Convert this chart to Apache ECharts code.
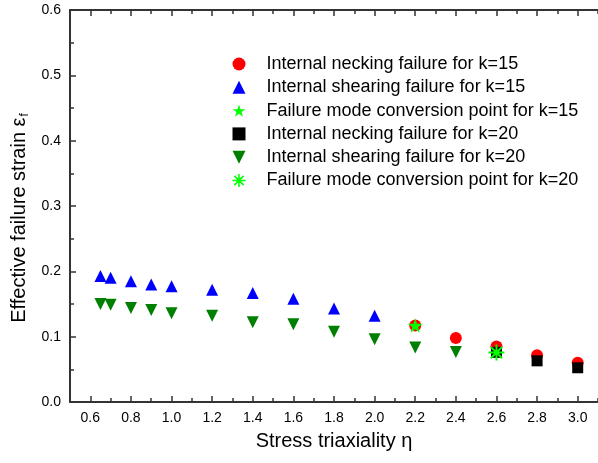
<!DOCTYPE html>
<html>
<head>
<meta charset="utf-8">
<script src="https://cdn.jsdelivr.net/npm/echarts@6/dist/echarts.min.js"></script>
<style>html,body{margin:0;padding:0;background:#fff}#c{width:598px;height:463px}</style>
</head>
<body>
<div id="c"></div>
<script>
// ---- data ----
const neck15X = [2.2, 2.4, 2.6, 2.8, 3.0];
const neck15Y = [0.117, 0.098, 0.085, 0.0715, 0.060];
const shear15X = [0.65, 0.7, 0.8, 0.9, 1.0, 1.2, 1.4, 1.6, 1.8, 2.0];
const shear15Y = [0.193, 0.190, 0.185, 0.180, 0.177, 0.172, 0.167, 0.158, 0.143, 0.132];
const conv15X = [2.2];
const conv15Y = [0.117];
const neck20X = [2.6, 2.8, 3.0];
const neck20Y = [0.076, 0.063, 0.0524];
const shear20X = [0.65, 0.7, 0.8, 0.9, 1.0, 1.2, 1.4, 1.6, 1.8, 2.0, 2.2, 2.4];
const shear20Y = [0.150, 0.149, 0.144, 0.141, 0.136, 0.132, 0.122, 0.119, 0.1075, 0.096, 0.0835, 0.0766];
const conv20X = [2.6];
const conv20Y = [0.0757];
const seriesNames = [
  'Internal necking failure for k=15',
  'Internal shearing failure for k=15',
  'Failure mode conversion point for k=15',
  'Internal necking failure for k=20',
  'Internal shearing failure for k=20',
  'Failure mode conversion point for k=20'
];
const xMajorTicks = [0.6, 0.8, 1.0, 1.2, 1.4, 1.6, 1.8, 2.0, 2.2, 2.4, 2.6, 2.8, 3.0];
const xMinorTicks = [0.5, 0.7, 0.9, 1.1, 1.3, 1.5, 1.7, 1.9, 2.1, 2.3, 2.5, 2.7, 2.9, 3.1];
const xTitle = 'Stress triaxiality \u03b7';
const yTitle = 'Effective failure strain \u03b5';

// ---- styling ----
const FONT = 'Liberation Sans, Arial, sans-serif';
const AX = '#333';
const zip = (xs, ys) => xs.map((x, i) => [x, ys[i]]);
const starPath = 'path://M50,0 L61.2,34.5 L97.6,34.5 L68.2,55.9 L79.4,90.5 L50,69.1 L20.6,90.5 L31.8,55.9 L2.4,34.5 L38.8,34.5 Z';
const downTriPath = 'path://M0,0 L12,0 L6,12 Z';
const astPath = 'path://M-1.2,-10 L1.2,-10 L1.2,10 L-1.2,10 Z M-10,-1.2 L10,-1.2 L10,1.2 L-10,1.2 Z ' +
  'M-6.22,-7.92 L7.92,6.22 L6.22,7.92 L-7.92,-6.22 Z M-7.92,6.22 L6.22,-7.92 L7.92,-6.22 L-6.22,7.92 Z';

function xAx(pos, ticks, len, showLine, showLabel) {
  return {
    type: 'value', position: pos, min: 0.5, max: 3.1,
    axisLine: { show: showLine, onZero: false, lineStyle: { color: AX, width: 2 } },
    axisTick: { show: true, inside: true, length: len, customValues: ticks, lineStyle: { color: AX, width: 1.5 } },
    axisLabel: { show: showLabel, customValues: xMajorTicks, margin: 9, color: '#000', fontSize: 14, fontFamily: FONT,
      formatter: v => v.toFixed(1) },
    splitLine: { show: false },
    name: showLabel ? xTitle : '', nameLocation: 'middle', nameGap: 29,
    nameTextStyle: { color: '#000', fontSize: 20, fontFamily: FONT }
  };
}

const chart = echarts.init(document.getElementById('c'), null, { renderer: 'canvas' });
chart.setOption({
  animation: false,
  backgroundColor: '#fff',
  grid: { left: 70, top: 10, right: -5, bottom: 61, containLabel: false },
  xAxis: [
    xAx('bottom', xMajorTicks, 6, true, true),
    xAx('bottom', xMinorTicks, 4, false, false),
    xAx('top', xMajorTicks, 6, true, false),
    xAx('top', xMinorTicks, 4, false, false)
  ],
  yAxis: {
    type: 'value', min: 0, max: 0.6, interval: 0.1,
    axisLine: { show: true, onZero: false, lineStyle: { color: AX, width: 2 } },
    axisTick: { inside: true, length: 6, lineStyle: { color: AX, width: 1.5 } },
    minorTick: { show: true, splitNumber: 2, length: 4, lineStyle: { color: AX, width: 1.5 } },
    axisLabel: { margin: 9, color: '#000', fontSize: 14, fontFamily: FONT, formatter: v => v.toFixed(1) },
    splitLine: { show: false },
    name: '{a|' + yTitle + '}{b|f}', nameLocation: 'middle', nameGap: 37,
    nameTextStyle: {
      color: '#000', fontSize: 20, fontFamily: FONT, padding: [0, 24, 0, 0],
      rich: {
        a: { fontSize: 20, fontFamily: FONT, color: '#000' },
        b: { fontSize: 12, fontFamily: FONT, color: '#000', padding: [10, 0, 0, 1] }
      }
    }
  },
  legend: {
    orient: 'vertical', left: 227.5, top: 50,
    itemWidth: 13, itemHeight: 13, itemGap: 5.3,
    textStyle: { color: '#000', fontSize: 18, fontFamily: FONT, lineHeight: 18, padding: [0, 0, 0, 16] },
    data: seriesNames
  },
  series: [
    { name: seriesNames[0], type: 'scatter', symbol: 'circle', symbolSize: 12,
      itemStyle: { color: '#ff0000', opacity: 1 }, data: zip(neck15X, neck15Y) },
    { name: seriesNames[1], type: 'scatter', symbol: 'triangle', symbolSize: 12,
      itemStyle: { color: '#0000ff', opacity: 1 }, data: zip(shear15X, shear15Y) },
    { name: seriesNames[2], type: 'scatter', symbol: starPath, symbolSize: 15, symbolKeepAspect: true,
      itemStyle: { color: '#00ff00', opacity: 1 }, data: zip(conv15X, conv15Y) },
    { name: seriesNames[3], type: 'scatter', symbol: 'rect', symbolSize: 11,
      itemStyle: { color: '#000000', opacity: 1 }, data: zip(neck20X, neck20Y) },
    { name: seriesNames[4], type: 'scatter', symbol: downTriPath, symbolSize: 12,
      itemStyle: { color: '#008000', opacity: 1 }, data: zip(shear20X, shear20Y) },
    { name: seriesNames[5], type: 'scatter', symbol: astPath, symbolSize: 16, symbolKeepAspect: true,
      itemStyle: { color: '#00ff00', opacity: 1 }, data: zip(conv20X, conv20Y) }
  ]
});
</script>
</body>
</html>
